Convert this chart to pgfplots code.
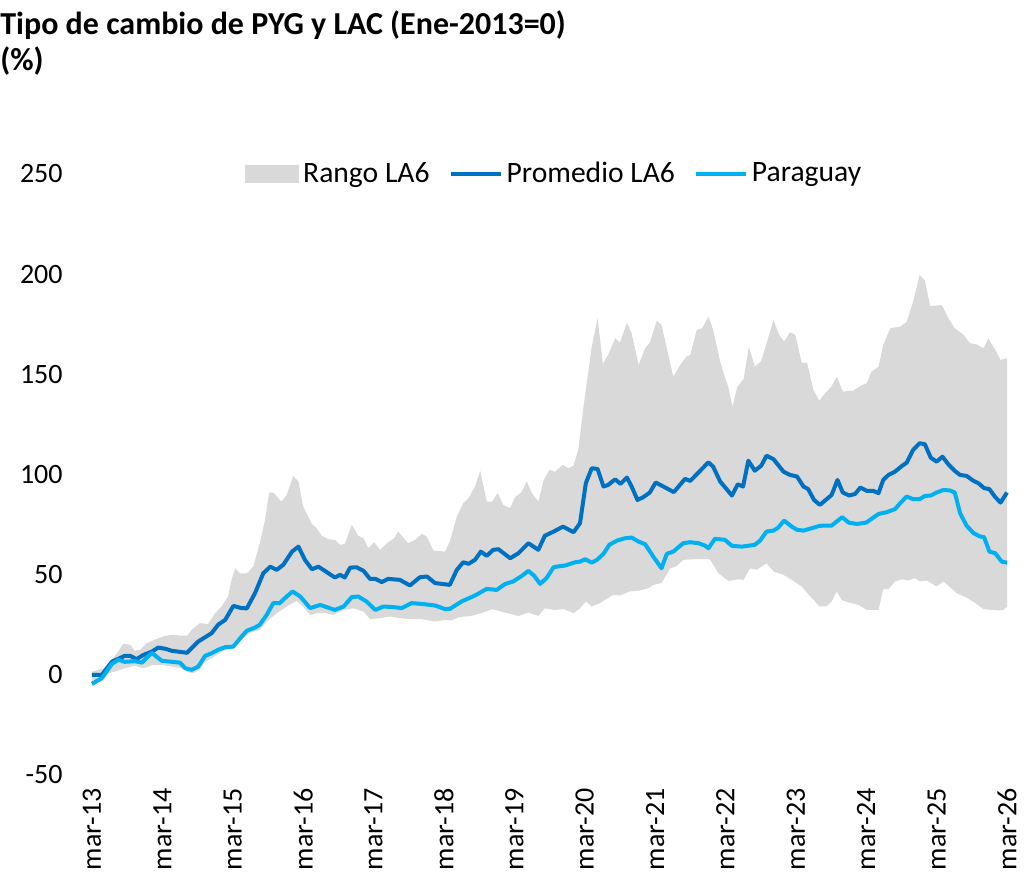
\documentclass[border=0pt]{standalone}
\usepackage{fontspec}
\setmainfont{Carlito}
\usepackage{pgfplots}
\pgfplotsset{compat=1.18}
\usepgfplotslibrary{fillbetween}
\definecolor{bandgray}{HTML}{D9D9D9}
\definecolor{darkblue}{HTML}{0070C0}
\definecolor{lightblue}{HTML}{00B0F0}
\pgfplotsset{
  lineleg/.style={legend image code/.code={\draw[##1] (0pt,0pt) -- (25pt,0pt);}},
  arealeg/.style={legend image code/.code={\fill[bandgray] (0pt,-4.25pt) rectangle (26.5pt,4.25pt);}}
}
\begin{document}
\begin{tikzpicture}
\begin{axis}[
  at={(0pt,0pt)}, anchor=south west,
  scale only axis, width=457.5pt, height=300.5pt,
  xmin=0, xmax=156, ymin=-50, ymax=250,
  axis line style={draw=none}, tick style={draw=none},
  xtick={0,12,24,36,48,60,72,84,96,108,120,132,144,156},
  xticklabels={mar-13,mar-14,mar-15,mar-16,mar-17,mar-18,mar-19,mar-20,mar-21,mar-22,mar-23,mar-24,mar-25,mar-26},
  ytick={-50,0,50,100,150,200,250},
  /pgf/number format/assume math mode=true,
  tick label style={font=\fontsize{14}{16.8}\selectfont},
  yticklabel style={anchor=east, inner xsep=14.5pt},
  xticklabel style={rotate=90, anchor=east, inner xsep=6.5pt},
  clip=false,
  legend columns=3,
  legend style={at={(0.1672,1)}, anchor=west, draw=none, fill=none, inner sep=0pt,
    font=\fontsize{14.8}{17.5}\selectfont,
    /tikz/every even column/.append style={column sep=7.5pt}},
  legend cell align=left,
]
\addlegendimage{arealeg}
\addlegendentry{Rango LA6}
\addlegendimage{darkblue, line width=2pt, lineleg}
\addlegendentry{Promedio LA6}
\addlegendimage{lightblue, line width=2pt, lineleg}
\addlegendentry{Paraguay}

\addplot[name path=upper, draw=none, forget plot] coordinates {
(0,1.6) (2.2,3.3) (3.4,7.8) (4.2,10.5) (5.3,15.5) (6.5,15) (7.3,12) (8.2,12.5) (9.3,15.8) (10.7,17.5) (12.5,19.5) (13.9,20) (15.3,19.5) (16.2,19.6) (17.3,23.3) (18.4,25.8) (19.8,25.4) (21,30.8) (22.1,34.1) (23.2,39.1) (23.8,47.4) (24.4,53.2) (25.2,50.7) (26.4,50.7) (27.5,54) (28.6,65.7) (29.5,77.3) (30.2,91) (30.9,91) (32.3,86.5) (33.2,89.8) (34.3,99.3) (35.2,96.5) (36,84) (37.5,75.3) (38.3,73.2) (39.2,69.4) (40.3,67.7) (41.4,67.4) (42.3,64.9) (43.1,65.4) (44.3,74.9) (45.4,69.4) (46.3,68.2) (47.1,63.2) (48.1,66.2) (49.1,62.4) (50.3,65.7) (51.5,68.2) (52.2,71.5) (53.9,65.7) (55.1,67.4) (56.2,70.4) (57.1,69) (58.2,62) (60.2,61.5) (61,66.5) (62.2,79) (63.3,85.7) (64.2,88.2) (65.3,94) (66.2,101.8) (67.3,86.5) (68.2,86.5) (69.2,90.7) (70.1,84.8) (71.3,83.2) (72.1,88.7) (73.2,91) (74.1,96.5) (75,90.7) (76.1,86.5) (77,97) (78,102.3) (78.9,101.4) (80.3,104.8) (81.2,103.1) (82.1,104.4) (82.9,112.3) (83.8,133.9) (85.2,163.8) (86.2,178) (87.1,155.2) (88,159.7) (89.2,168) (90,165.8) (91.2,175.8) (92,170.5) (93.2,154.7) (94.3,163) (95.1,165.8) (96.3,176.8) (97.1,174.7) (99.1,148.9) (100.3,154.7) (101.3,158.8) (102,159.7) (103.1,172.2) (104,173) (105.1,178.8) (105.9,172.2) (107.1,156.3) (107.9,148.6) (108.5,143.6) (109.2,133.9) (110,143.6) (111.1,147.7) (112,163.8) (113,153.8) (114.1,156.7) (115,165.5) (116.2,177.1) (117.1,170) (118,166.3) (119,171) (119.9,169.7) (121,155.8) (121.9,155.8) (123,142.2) (124,136.9) (125,140.6) (126,143.6) (127,148.9) (128,141.4) (129.8,141.9) (131,144.2) (132.1,145.6) (132.9,151.4) (134.1,153.8) (134.9,164.7) (136.1,173) (137.8,173.8) (138.9,176.3) (140,186.3) (141.1,199.6) (142,196.8) (142.9,184.1) (144.9,184.6) (146,178) (147.1,173) (148.6,169.7) (149.7,165.5) (150.8,165) (152,163) (152.8,168) (154,162.2) (154.9,157.2) (156,158)
};
\addplot[name path=lower, draw=none, forget plot] coordinates {
(0,-5.8) (1.7,-2.8) (2.8,0.8) (3.9,1.6) (5.6,3.3) (7.3,4.5) (8.8,3.3) (10.5,5) (11.9,5) (13.6,4.1) (15.3,3.3) (16.4,1.2) (17.3,0.8) (18.4,2.8) (19.3,6.6) (20.4,8.3) (21.5,10.3) (22.7,12.5) (24.1,13.3) (25.5,17.5) (26.9,20.8) (28.6,22.5) (29.8,26.6) (31.5,30.8) (33.2,34.1) (34.9,36.9) (36,34.1) (37.2,29.9) (38.3,30.8) (39.7,30.8) (41.1,29.9) (42.9,32.4) (44.6,33.2) (46.3,31.6) (47.4,27.8) (49.1,28.3) (50.8,29.1) (52.5,28.3) (53.9,27.8) (56.2,27.8) (58.5,26.6) (60.2,27.4) (61.3,27.1) (62.5,28.8) (64.7,29.4) (66.4,30.8) (68.2,32.8) (70.4,31.1) (72.7,29.4) (74.4,31.1) (76.1,29.4) (77.2,33.2) (78.8,32.4) (80.4,32.8) (82.1,30.8) (83.2,33.2) (84.2,36.6) (85.2,34.1) (86.6,35.8) (88.9,39.9) (90,39.6) (91.7,41.6) (93.4,42.1) (94.9,43.3) (95.7,44.9) (97.1,45.8) (98.6,53.2) (99.7,54.4) (100.8,57.4) (102.5,57.7) (105.1,57.7) (105.4,57.4) (106.8,50.7) (108.5,46.9) (110.2,47.7) (111.1,47.4) (112.2,53.2) (113.3,52.4) (115,55.7) (116.2,51.6) (117.9,49.9) (119.3,47.4) (121,44.1) (122.7,38.3) (124.1,34.1) (125.3,34.4) (126.1,36.6) (127,41.6) (127.8,37.4) (129,36.1) (130.7,34.9) (132.1,32.4) (134.1,32.4) (134.9,42.8) (135.8,42.8) (136.9,46.6) (138.1,47.7) (139.2,47.1) (140.3,48.3) (141.2,46.6) (142.3,47.1) (144,44.1) (145.2,46.6) (147.4,40.8) (149.1,38.6) (150.6,35.8) (152,32.8) (154.5,32.1) (155.4,32.4) (156,34.1)
};
\addplot[bandgray, forget plot] fill between[of=upper and lower];

\addplot[darkblue, line width=2pt, line join=round, forget plot] coordinates {
(0,0) (1.7,0) (3.4,6.6) (4.5,8) (5.6,9.5) (6.5,9.5) (7.6,7.8) (8.8,10) (10.2,11.6) (11.3,13.6) (12.5,13) (13.6,12) (16.2,11) (18.1,16.6) (20.4,20.8) (21.5,25) (22.7,27.4) (24.1,34.4) (25.5,33.3) (26.4,33.2) (27.8,40.8) (29.2,50.7) (30.4,54) (31.5,52.4) (32.6,54.9) (34.1,61.5) (35.2,64) (36.3,57.4) (37.5,52.7) (38.6,54) (39.7,51.9) (41.4,48.6) (42.3,49.9) (43.1,48.6) (44,53.5) (45.1,53.7) (46.3,51.9) (47.4,47.9) (48.3,47.9) (49.4,46.3) (50.5,47.9) (52.5,47.4) (54.2,44.6) (55.9,48.7) (57.1,49.1) (58.5,45.8) (59.6,45.4) (61,44.9) (62.2,52.4) (63.3,56.2) (64.2,55.4) (65.3,57.4) (66.3,61.5) (67.3,59.4) (68.4,62.4) (69.3,62.7) (71.3,58.2) (72.7,60.7) (74.4,65.7) (76.1,62.4) (77.2,69.4) (78.7,71.5) (80.3,74) (82.1,71.2) (83.2,75.7) (84.2,95.7) (85.2,103.1) (86.2,102.8) (87.2,94) (88,94.8) (89.2,97.6) (90.1,95.3) (91.2,98.5) (92,94) (93,87.3) (94,88.7) (95.1,91) (96.1,96) (97.4,94) (99.2,91.2) (101.1,97.8) (102,96.8) (103.4,101) (105.1,106.1) (105.9,103.9) (107.1,96.5) (109.1,89.5) (110.1,95.1) (111,94) (111.9,106.9) (113,101.9) (114.1,104.4) (115,109.4) (116.2,107.6) (117.9,101.4) (119,99.8) (120.2,99) (121.3,94) (122.1,92.7) (123.1,87.3) (124.1,84.8) (125.3,87.8) (126.1,89.8) (127.1,97.3) (128,91) (129.1,89.5) (130.1,90.3) (131,93.5) (132.1,91.8) (133.2,91.8) (134.1,90.7) (134.9,97.3) (135.8,99.8) (136.9,101.4) (138.1,104.3) (138.9,105.9) (140,112.3) (141.1,115.6) (142,115.1) (143,108.4) (144,106.4) (145,108.9) (146,105.1) (147.1,101.8) (148,99.8) (149.1,99.3) (150.3,96.8) (151.1,95.7) (152.1,93.2) (153,92.7) (154,88.7) (154.9,86) (156,91)
};
\addplot[lightblue, line width=2pt, line join=round, forget plot] coordinates {
(0,-4.5) (1.7,-1.6) (3.4,5.5) (4.5,7.5) (5.6,6.5) (7.3,6.8) (8.5,6.1) (10.2,11) (11.9,7) (13.6,6.5) (15,6.1) (15.9,3.3) (17,2.5) (18.1,4.1) (19.3,9.5) (20.4,10.8) (21.5,12.5) (22.7,13.8) (24.1,14.1) (25.5,19.1) (26.4,22) (27.8,23.6) (28.6,25) (29.8,30) (30.9,35.8) (32,35.8) (33.2,39.1) (34.2,41.6) (35.5,39.1) (37.2,33.3) (38.9,34.9) (39.7,34.1) (41.4,32.4) (42.9,34.1) (44.3,38.8) (45.4,39.1) (46.8,36.6) (48.3,32.4) (49.7,34.1) (51.4,33.8) (52.8,33.3) (54.5,35.8) (56.2,35.4) (58.5,34.6) (60.2,32.8) (61,32.9) (63,36.6) (65.3,39.6) (67.3,42.9) (69,42.4) (70.4,45.3) (71.8,46.6) (73.3,49.4) (74.4,51.9) (75.4,49.4) (76.4,45.4) (77.5,48.3) (78.7,53.7) (79.2,54) (80.7,54.6) (82.4,56.2) (83.2,56.5) (84.1,57.7) (85.2,56) (86.1,57.4) (87.2,60.4) (88.2,64.9) (89.5,67) (90.9,68.2) (92,68.5) (93.2,66.5) (94.3,65.2) (95.7,59) (97.1,53.2) (98,60.4) (99.1,61.5) (100.8,65.7) (102,66.2) (103.4,65.7) (104.5,64.5) (105.1,63.2) (106.2,67.9) (107.9,67.4) (109.1,64.4) (110.8,64) (113,64.9) (113.9,67) (115,71.5) (116.2,72) (117,73.5) (118,77) (119.3,74) (120.2,72.4) (121.3,72) (122.7,73.2) (124.1,74.4) (126.1,74.5) (127.9,78.7) (129,76) (130.4,75.3) (132,76) (134.1,80.3) (135.5,81.2) (136.9,82.7) (137.8,85.7) (138.9,89) (140,87.7) (141.1,87.7) (142,89.3) (143,89.5) (144,91) (145.2,92.3) (146.3,92) (147.1,91) (148,80.7) (149.1,74.5) (150.3,70.7) (151.4,69.1) (152.1,68.7) (153,61.5) (154,60.7) (155.1,56.5) (156,56)
};
\end{axis}
\node[anchor=base west, inner sep=0pt, font=\fontsize{16}{19}\selectfont\bfseries] at (-46pt,370pt) {Tipo de cambio de PYG y LAC (Ene-2013=0)};
\node[anchor=base west, inner sep=0pt, font=\fontsize{16}{19}\selectfont\bfseries] at (-46pt,352pt) {(\%)};
\pgfresetboundingbox
\path[use as bounding box] (-46pt,-52.5pt) rectangle (466.5pt,387.5pt);
\end{tikzpicture}
\end{document}
